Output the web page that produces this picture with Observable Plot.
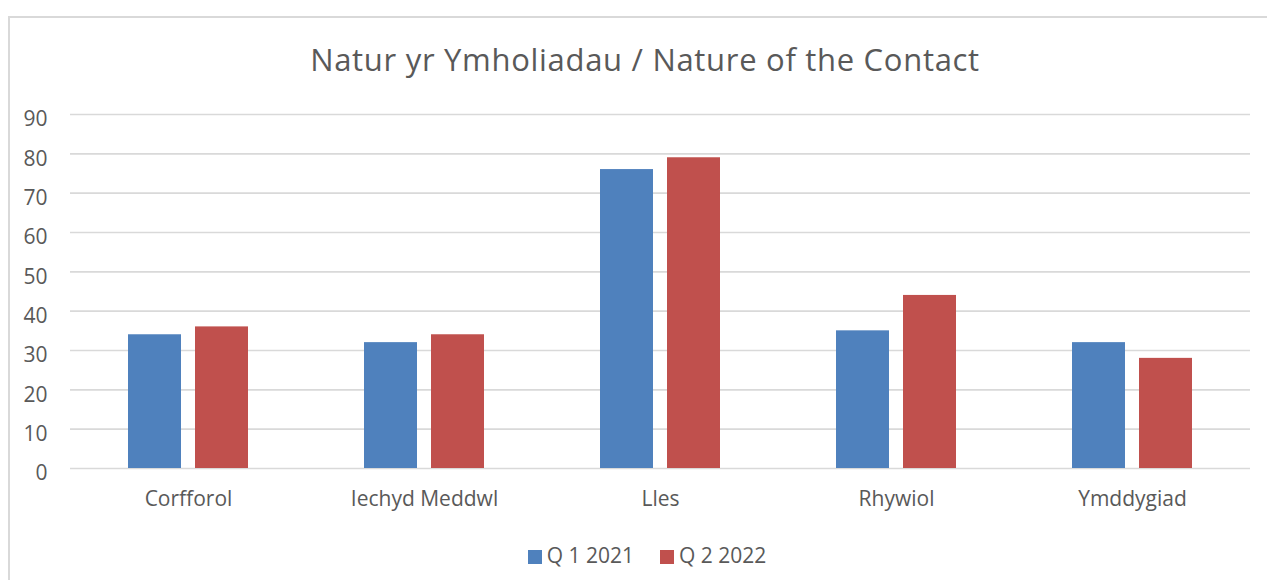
<!DOCTYPE html>
<html>
<head>
<meta charset="utf-8">
<script src="https://cdn.jsdelivr.net/npm/d3@7"></script>
<script src="https://cdn.jsdelivr.net/npm/@observablehq/plot@0.6"></script>
<style>
  html, body { margin: 0; padding: 0; background: #fff; }
  body { width: 1267px; height: 580px; overflow: hidden; position: relative; font-family: "Open Sans", Lato, sans-serif; color: #595959; }
  #frame { position: absolute; left: 8px; top: 16px; width: 1300px; height: 700px; border-top: 2px solid #d9d9d9; border-left: 2px solid #d9d9d9; box-sizing: border-box; }
  #title { position: absolute; left: 0; top: 39px; width: 1290px; text-align: center; font-size: 31px; letter-spacing: 0.7px; line-height: 40px; color: #595959; }
  #chart { position: absolute; left: 0; top: 95px; }
  #legend { position: absolute; left: 0; top: 541px; width: 1294px; text-align: center; font-size: 21px; line-height: 28px; color: #595959; }
  .item { display: inline-block; margin: 0 13px; }
  .sw { display: inline-block; width: 14px; height: 14px; margin-right: 5px; vertical-align: -1px; }
</style>
</head>
<body>
<div id="frame"></div>
<div id="title">Natur yr Ymholiadau / Nature of the Contact</div>
<div id="chart"></div>
<div id="legend"></div>
<script>
const categories = ["Corfforol", "Iechyd Meddwl", "Lles", "Rhywiol", "Ymddygiad"];
const seriesNames = ["Q 1 2021", "Q 2 2022"];
const q1_2021 = [34, 32, 76, 35, 32];
const q2_2022 = [36, 34, 79, 44, 28];
const yTicks = [0, 10, 20, 30, 40, 50, 60, 70, 80, 90];
const colors = ["#4f81bd", "#c0504d"];

const data = [];
categories.forEach((c, i) => {
  data.push({cat: c, series: seriesNames[0], value: q1_2021[i]});
  data.push({cat: c, series: seriesNames[1], value: q2_2022[i]});
});

const chart = Plot.plot({
  width: 1267,
  height: 440,
  marginTop: 19,
  marginBottom: 67,
  marginLeft: 69,
  marginRight: 17,
  style: {fontFamily: "'Open Sans', Lato, sans-serif", fontSize: "21px", color: "#595959", background: "transparent"},
  fx: {domain: categories, padding: 0, label: null},
  x: {domain: seriesNames, paddingInner: 0.209, paddingOuter: 0.85, axis: null},
  y: {domain: [0, 90], label: null},
  color: {domain: seriesNames, range: colors},
  marks: [
    Plot.gridY(yTicks, {stroke: "#d9d9d9", strokeOpacity: 1, strokeWidth: 1.6}),
    Plot.barY(data, {fx: "cat", x: "series", y: "value", fill: "series"}),
    Plot.axisY(yTicks, {tickSize: 0, tickPadding: 23, dy: 5, fontSize: 21, label: null}),
    Plot.axisFx({anchor: "bottom", tickSize: 0, tickPadding: 23, fontSize: 21, label: null})
  ]
});
document.getElementById("chart").appendChild(chart);

const legend = document.getElementById("legend");
seriesNames.forEach((s, i) => {
  const item = document.createElement("span");
  item.className = "item";
  const sw = document.createElement("span");
  sw.className = "sw";
  sw.style.background = colors[i];
  item.appendChild(sw);
  item.appendChild(document.createTextNode(s));
  legend.appendChild(item);
});
</script>
</body>
</html>
